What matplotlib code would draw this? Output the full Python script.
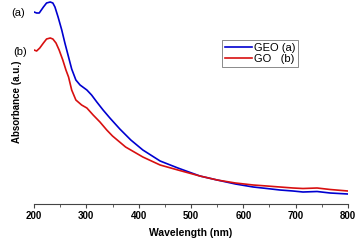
import matplotlib.pyplot as plt
from matplotlib.ticker import MultipleLocator

plt.rcParams['font.family'] = ['Liberation Sans', 'DejaVu Sans']

# values (absorbance in arbitrary units)
wavelength_geo = [200, 205, 210, 218, 224, 231, 236, 240, 246, 253, 259, 266, 272, 280,
                  288, 301, 310, 320, 332, 345, 364, 385, 408, 441, 475, 517, 550,
                  585, 619, 645, 670, 695, 714, 741, 766, 800]
absorb_geo = [1.92, 1.91, 1.91, 1.97, 2.01, 2.02, 2.01, 1.97, 1.87, 1.74, 1.61, 1.47, 1.35, 1.24,
              1.19, 1.14, 1.09, 1.02, 0.94, 0.86, 0.75, 0.64, 0.54, 0.43, 0.36, 0.28, 0.24,
              0.20, 0.17, 0.155, 0.14, 0.13, 0.12, 0.125, 0.11, 0.10]

wavelength_go = [200, 205, 211, 218, 224, 231, 236, 242, 248, 255, 261, 266, 272, 280,
                 291, 301, 313, 326, 339, 350, 375, 408, 441, 475, 517, 550,
                 585, 619, 645, 670, 695, 714, 741, 766, 800]
absorb_go = [1.54, 1.53, 1.56, 1.61, 1.65, 1.66, 1.65, 1.61, 1.54, 1.44, 1.34, 1.27, 1.14, 1.04,
             0.99, 0.96, 0.89, 0.82, 0.74, 0.68, 0.57, 0.47, 0.39, 0.34, 0.28, 0.24,
             0.21, 0.19, 0.18, 0.17, 0.16, 0.155, 0.16, 0.145, 0.13]

fig = plt.figure(figsize=(3.58, 2.42), dpi=100)
ax = fig.add_axes([0.095, 0.157, 0.877, 0.843])

ax.plot(wavelength_geo, absorb_geo, color='#0000d0', lw=1.2, label='GEO (a)')
ax.plot(wavelength_go, absorb_go, color='#d81010', lw=1.2, label='GO   (b)')

ax.set_xlim(200, 800)
ax.set_ylim(0, 2.04)
for s in ['left', 'top', 'right']:
    ax.spines[s].set_visible(False)
ax.spines['bottom'].set_color('#444444')
ax.spines['bottom'].set_linewidth(0.8)
ax.set_yticks([])
ax.xaxis.set_major_locator(MultipleLocator(100))
ax.xaxis.set_minor_locator(MultipleLocator(50))
ax.tick_params(axis='x', which='major', length=3, width=0.8, color='#444444', pad=2, labelsize=7)
ax.tick_params(axis='x', which='minor', length=1.8, width=0.6, color='#444444')
for lab in ax.get_xticklabels():
    lab.set_fontweight('bold')

ax.set_xlabel('Wavelength (nm)', fontsize=7.5, fontweight='bold', labelpad=5)
ax.set_ylabel('Absorbance (a.u.)', fontsize=7, fontweight='bold', labelpad=9)

ax.text(170, 1.91, '(a)', fontsize=8, ha='center', va='center', clip_on=False)
ax.text(173, 1.52, '(b)', fontsize=8, ha='center', va='center', clip_on=False)

leg = ax.legend(loc='upper left', bbox_to_anchor=(0.6, 0.805), fontsize=8,
                frameon=True, fancybox=False, handlelength=2.4, handletextpad=0.2,
                borderpad=0.25, labelspacing=0.15, borderaxespad=0)
leg.get_frame().set_edgecolor('#555555')
leg.get_frame().set_linewidth(0.6)

fig.savefig('out.png', dpi=100)
